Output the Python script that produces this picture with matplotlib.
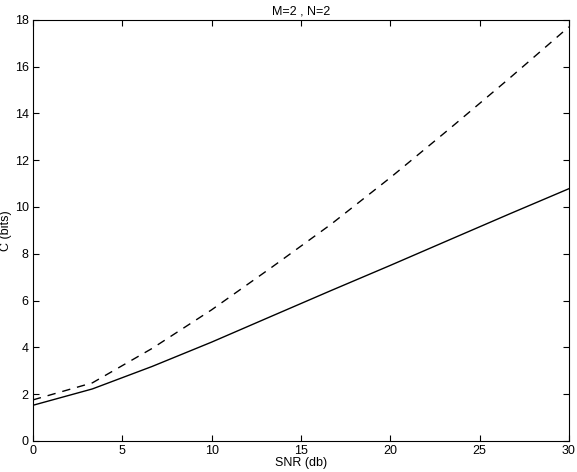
import numpy as np
from matplotlib import pyplot as plt

plt.rcParams['font.family'] = ['Liberation Sans', 'DejaVu Sans']

snr = [0, 3.33, 6.67, 10, 13.33, 16.67, 20, 23.33, 26.67, 30]
c_solid = [1.52, 2.22, 3.18, 4.22, 5.32, 6.42, 7.5, 8.6, 9.7, 10.78]
c_dashed = [1.75, 2.48, 3.95, 5.6, 7.4, 9.25, 11.25, 13.35, 15.5, 17.7]

fig = plt.figure(figsize=(5.77, 4.72), dpi=100)
ax = fig.add_axes([0.057, 0.066, 0.929, 0.892])
ax.plot(snr, c_solid, color='black', lw=1.0)
ax.plot(snr, c_dashed, color='black', lw=1.0, ls=(0, (6, 5)))
ax.set_xlim(0, 30)
ax.set_ylim(0, 18)
ax.set_xticks(np.arange(0, 31, 5))
ax.set_yticks(np.arange(0, 19, 2))
ax.tick_params(direction='in', top=True, right=True, length=4, labelsize=9, pad=3)
ax.set_xlabel('SNR (db)', fontsize=9, labelpad=0)
ax.set_ylabel('C (bits)', fontsize=9, labelpad=2)
ax.set_title('M=2 , N=2', fontsize=9, pad=4)
fig.savefig('out.png', dpi=100)
